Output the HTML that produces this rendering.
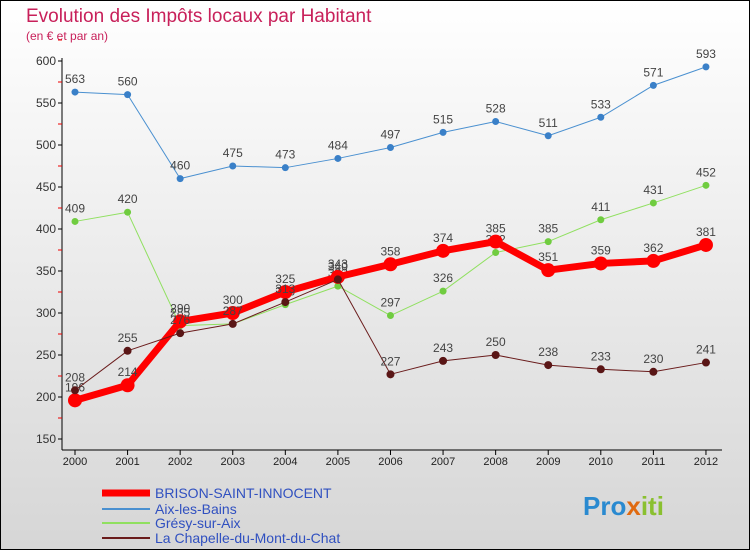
<!DOCTYPE html>
<html><head><meta charset="utf-8"><style>
body{margin:0;width:750px;height:550px;overflow:hidden;font-family:"Liberation Sans",sans-serif}
</style></head><body>
<svg width="750" height="550" xmlns="http://www.w3.org/2000/svg">
<defs><linearGradient id="bg" x1="0" y1="0" x2="0" y2="1"><stop offset="0" stop-color="#ffffff"/><stop offset="1" stop-color="#d6d6d6"/></linearGradient></defs>
<rect x="0.5" y="0.5" width="749" height="549" fill="url(#bg)" stroke="#000"/>
<text x="26" y="22" font-size="19" fill="#c8205a">Evolution des Impôts locaux par Habitant</text>
<text x="26" y="40" font-size="12" fill="#c8205a">(en € et par an)</text>
<g id="axes"></g>
<g id="series"></g>
<g id="legend"></g>
<text x="583" y="515" font-size="26" font-weight="bold" fill="#2a8ad0">Pro<tspan fill="#e06a10">x</tspan><tspan fill="#8ac030">iti</tspan></text>
</svg>
<script>
const years=[2000,2001,2002,2003,2004,2005,2006,2007,2008,2009,2010,2011,2012];
const brison=[196,214,290,300,325,343,358,374,385,351,359,362,381];
const aix=[563,560,460,475,473,484,497,515,528,511,533,571,593];
const gresy=[409,420,285,287,310,332,297,326,372,385,411,431,452];
const chapelle=[208,255,276,287,313,340,227,243,250,238,233,230,241];
const yTicks=[150,200,250,300,350,400,450,500,550,600];
const NS="http://www.w3.org/2000/svg";
const X=i=>75+i*52.58;
const Y=v=>61+(600-v)*0.84;
function mk(t,a,p){const e=document.createElementNS(NS,t);for(const k in a)e.setAttribute(k,a[k]);p.appendChild(e);return e;}
const ax=document.getElementById('axes');
const yl=mk('line',{x1:62,y1:58,x2:62,y2:450,stroke:'#000'},ax);


const xl=mk('line',{x1:62,y1:450,x2:722,y2:450,stroke:'#000'},ax);


yTicks.forEach(v=>{
 mk('line',{x1:58,y1:Y(v),x2:62,y2:Y(v),stroke:'#000'},ax);
 mk('line',{x1:58,y1:Y(v+25),x2:62,y2:Y(v+25),stroke:'#e00'},ax);
 const t=mk('text',{x:56,y:Y(v)+4,'font-size':12,'text-anchor':'end',fill:'#333'},ax);t.textContent=v;
 
 
});
years.forEach((y,i)=>{
 mk('line',{x1:X(i),y1:450,x2:X(i),y2:455,stroke:'#000'},ax);
 const t=mk('text',{x:X(i),y:465,'font-size':11,'text-anchor':'middle',fill:'#222'},ax);t.textContent=y;
 
 
});
const sg=document.getElementById('series');
function series(vals,color,w,r,name,dot){
 const g=mk('g',{},sg);
 
 
 mk('polyline',{points:vals.map((v,i)=>X(i)+','+Y(v)).join(' '),fill:'none',stroke:color,'stroke-width':w,'stroke-linejoin':'round'},g);
 vals.forEach((v,i)=>{
  const c=mk('circle',{cx:X(i),cy:Y(v),r:r,fill:dot},g);
  
  
  const t=mk('text',{x:X(i),y:Y(v)-9,'font-size':12,'text-anchor':'middle',fill:'#444'},g);t.textContent=v;
 });
}
series(aix,'#4a90d0',1,3.5,'aix-les-bains-series','#3a80c8');
series(gresy,'#90e060',1,3.5,'gresy-sur-aix-series','#70cc40');
series(brison,'#ff0000',7,7,'brison-series','#ff0000');
series(chapelle,'#6a1c1c',1,4,'chapelle-series','#5a1616');
const lg=document.getElementById('legend');
[['BRISON-SAINT-INNOCENT','#ff0000',7,493],['Aix-les-Bains','#4a90d0',2,509],['Grésy-sur-Aix','#90e060',2,523],['La Chapelle-du-Mont-du-Chat','#6a1c1c',2,538]].forEach(d=>{
 const g=mk('g',{},lg);
 
 
 mk('line',{x1:102,y1:d[3],x2:150,y2:d[3],stroke:d[1],'stroke-width':d[2]},g);
 const t=mk('text',{x:155,y:d[3]+5,'font-size':14,fill:'#3050c0'},g);t.textContent=d[0];
});
</script>
</body></html>
